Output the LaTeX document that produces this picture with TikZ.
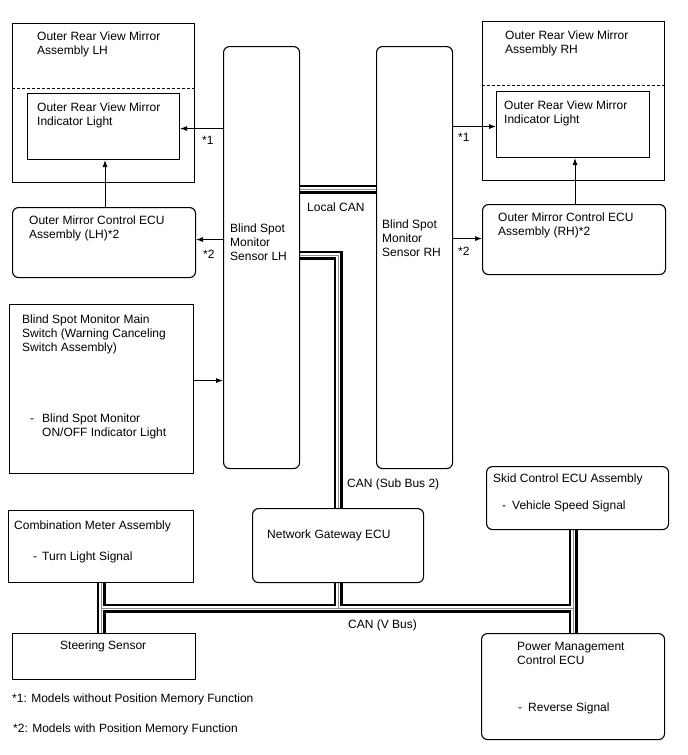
\documentclass[tikz,border=0pt]{standalone}
\usepackage{fontspec}
\setmainfont{Liberation Sans}
\usetikzlibrary{arrows.meta,backgrounds}

\newcommand{\itm}[1][6pt]{\llap{-\hspace{#1}}}

\tikzset{
  box/.style={draw, line width=1.1pt, fill=white, inner sep=0pt, anchor=north west},
  rbox/.style={box, rounded corners=6pt},
  lbl/.style={anchor=base west, align=left, inner sep=0pt, font=\fontsize{12}{14}\selectfont},
  arr/.style={-{Latex[length=7pt,width=5pt]}, line width=0.8pt},
  sepline/.style={line width=0.9pt, dash pattern=on 3pt off 2pt},
  busouter/.style={line width=9pt, black},
  businner/.style={line width=4.6pt, white},
  buscore/.style={line width=0.9pt, black!45},
}

\begin{document}
\begin{tikzpicture}[x=1pt,y=-1pt]
    \useasboundingbox (0,0) rectangle (688,755);
    % left side
    \node[box, minimum width=182pt, minimum height=159pt] (lhmir) at (12,23) {};
    \node[box, minimum width=152pt, minimum height=66pt] (lhind) at (27,93) {};
    \node[rbox, minimum width=183pt, minimum height=70pt] (lhecu) at (12,207) {};
    \node[rbox, minimum width=76pt, minimum height=422pt] (lhsen) at (223,46) {};
    \node[box, minimum width=184pt, minimum height=169pt] (msw) at (9,304) {};
    % right side
    \node[rbox, minimum width=76pt, minimum height=422pt] (rhsen) at (376,46) {};
    \node[box, minimum width=182pt, minimum height=159pt] (rhmir) at (482,21) {};
    \node[box, minimum width=153pt, minimum height=66pt] (rhind) at (496,91) {};
    \node[rbox, minimum width=183pt, minimum height=70pt] (rhecu) at (482,204) {};
    % V bus members
    \node[box, minimum width=185pt, minimum height=72pt] (cmb) at (8,510) {};
    \node[box, minimum width=183pt, minimum height=46pt] (ste) at (12,633) {};
    \node[rbox, minimum width=171pt, minimum height=74pt] (gw) at (252,508) {};
    \node[rbox, minimum width=182pt, minimum height=63pt] (skid) at (486,466) {};
    \node[rbox, minimum width=183pt, minimum height=106pt] (pwr) at (481,633) {};

    \draw[sepline] ([yshift=-65pt]lhmir.north west) -- ([yshift=-65pt]lhmir.north east);
    \draw[sepline] ([yshift=-64pt]rhmir.north west) -- ([yshift=-64pt]rhmir.north east);

    % CAN lines, drawn in layers so the joints merge
    \begin{scope}[on background layer]
    \coordinate (lcan) at (0,189);
    \coordinate (subbus) at (gw.north |- 0,255);
    \coordinate (vbus) at (0,608);
    \foreach \layer in {busouter,businner,buscore}{
        \draw[\layer] (lhsen.east |- lcan) -- (rhsen.west |- lcan);
        \draw[\layer] (lhsen.east |- subbus) -- (subbus) -- (gw.north);
        \draw[\layer] (gw.south) -- (gw.south |- vbus);
        \draw[\layer] (cmb.south) -- (cmb.south |- ste.north);
        \draw[\layer] (cmb.south |- vbus) -- (pwr.north |- vbus);
        \draw[\layer] (skid.south -| pwr.north) -- (pwr.north);
    }
    \end{scope}

    % signals
    \draw[arr] ([yshift=-2pt]lhsen.west |- lhind.east) -- ([yshift=-2pt]lhind.east);
    \draw[arr] ([yshift=3pt]lhsen.west |- lhecu.east) -- ([yshift=3pt]lhecu.east);
    \draw[arr] (lhecu.north -| 105,0) -- (lhind.south -| 105,0);
    \draw[arr] ([yshift=8.5pt]msw.east) -- ([yshift=8.5pt]msw.east -| lhsen.west);
    \draw[arr] ([yshift=-2pt]rhsen.east |- rhind.west) -- ([yshift=-2pt]rhind.west);
    \draw[arr] ([yshift=1pt]rhsen.east |- rhecu.west) -- ([yshift=1pt]rhecu.west);
    \draw[arr] (rhecu.north -| 575,0) -- (rhind.south -| 575,0);

    % texts (base = last line)
    \node[lbl] (lhmirtxt) at (37,54) {Outer Rear View Mirror\\Assembly LH};
    \node[lbl] (lhindtxt) at (37,125) {Outer Rear View Mirror\\Indicator Light};
    \node[lbl] (lhecutxt) at (29,238) {Outer Mirror Control ECU\\Assembly (LH)*2};
    \node[lbl] (lhsentxt) at (230,260) {Blind Spot\\Monitor\\Sensor LH};
    \node[lbl] (rhsentxt) at (382,256) {Blind Spot\\Monitor\\Sensor RH};
    \node[lbl] (rhmirtxt) at (505,53) {Outer Rear View Mirror\\Assembly RH};
    \node[lbl] (rhindtxt) at (504,123) {Outer Rear View Mirror\\Indicator Light};
    \node[lbl] (rhecutxt) at (498,235) {Outer Mirror Control ECU\\Assembly (RH)*2};
    \node[lbl] (mswtxt) at (22,351) {Blind Spot Monitor Main\\Switch (Warning Canceling\\Switch Assembly)};
    \node[lbl] (mswitm) at (42,436) {\itm[8pt]Blind Spot Monitor\\ON/OFF Indicator Light};
    \node[lbl] (cmbtxt) at (14,529) {Combination Meter Assembly};
    \node[lbl] (cmbitm) at (42,560) {\itm[5pt]Turn Light Signal};
    \node[lbl] (stetxt) at (60,649) {Steering Sensor};
    \node[lbl] (gwtxt) at (267,538) {Network Gateway ECU};
    \node[lbl] (skidtxt) at (493,482) {Skid Control ECU Assembly};
    \node[lbl] (skiditm) at (512,509) {\itm Vehicle Speed Signal};
    \node[lbl] (pwrtxt) at (517,664) {Power Management\\Control ECU};
    \node[lbl] (pwritm) at (528,711) {\itm Reverse Signal};

    \node[lbl] (lcantxt) at (307,211) {Local CAN};
    \node[lbl] (subtxt) at (347,487) {CAN (Sub Bus 2)};
    \node[lbl] (vbustxt) at (348,628) {CAN (V Bus)};
    \node[lbl] (lhn1) at (202,144) {*1};
    \node[lbl] (lhn2) at (203,258) {*2};
    \node[lbl] (rhn1) at (458,141) {*1};
    \node[lbl] (rhn2) at (458,255) {*2};

    \node[lbl] (note1) at (12,702) {*1: Models without Position Memory Function};
    \node[lbl] (note2) at (13,732) {*2: Models with Position Memory Function};
\end{tikzpicture}
\end{document}
